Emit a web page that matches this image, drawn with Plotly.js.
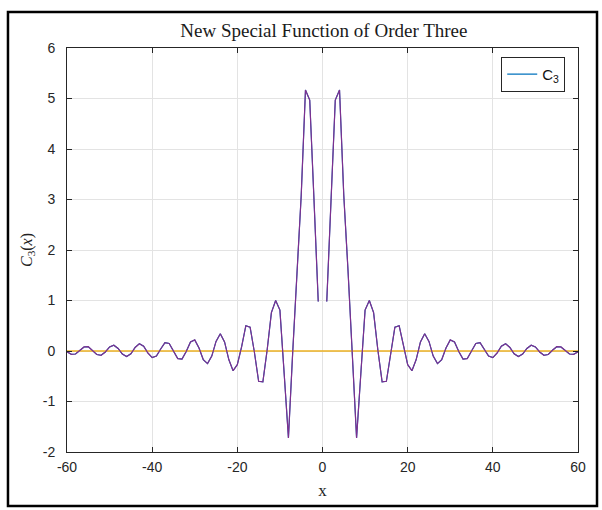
<!DOCTYPE html>
<html>
<head>
<meta charset="utf-8">
<script src="https://cdn.plot.ly/plotly-3.0.1.min.js"></script>
<style>html,body{margin:0;padding:0;background:#fff;}#chart{width:602px;height:510px;}</style>
</head>
<body>
<div id="chart"></div>
<script>
const xValues = [-60,-59,-58,-57,-56,-55,-54,-53,-52,-51,-50,-49,-48,-47,-46,-45,-44,-43,-42,-41,-40,-39,-38,-37,-36,-35,-34,-33,-32,-31,-30,-29,-28,-27,-26,-25,-24,-23,-22,-21,-20,-19,-18,-17,-16,-15,-14,-13,-12,-11,-10,-9,-8,-7,-6,-5,-4,-3,-2,-1,0,1,2,3,4,5,6,7,8,9,10,11,12,13,14,15,16,17,18,19,20,21,22,23,24,25,26,27,28,29,30,31,32,33,34,35,36,37,38,39,40,41,42,43,44,45,46,47,48,49,50,51,52,53,54,55,56,57,58,59,60];
const c3Values = [-0.015,-0.065,-0.06,0.01,0.08,0.085,0.015,-0.07,-0.085,-0.02,0.08,0.115,0.05,-0.06,-0.11,-0.055,0.07,0.145,0.095,-0.04,-0.13,-0.10,0.04,0.165,0.15,0.00,-0.15,-0.16,-0.01,0.18,0.22,0.06,-0.17,-0.25,-0.10,0.19,0.34,0.18,-0.17,-0.39,-0.27,0.08,0.50,0.47,-0.02,-0.60,-0.61,0.02,0.76,1.00,0.81,-0.45,-1.72,-0.03,1.58,3.08,5.17,4.97,3.00,0.98,null,0.98,3.00,4.97,5.17,3.08,1.58,-0.03,-1.72,-0.45,0.81,1.00,0.76,0.02,-0.61,-0.60,-0.02,0.47,0.50,0.08,-0.27,-0.39,-0.17,0.18,0.34,0.19,-0.10,-0.25,-0.17,0.06,0.22,0.18,-0.01,-0.16,-0.15,0.00,0.15,0.165,0.04,-0.10,-0.13,-0.04,0.095,0.145,0.07,-0.055,-0.11,-0.06,0.05,0.115,0.08,-0.02,-0.085,-0.07,0.015,0.085,0.08,0.01,-0.06,-0.065,-0.015];
const baselineX = [-60, 60];
const baselineY = [0, 0];
const xTicks = [-60,-40,-20,0,20,40,60];
const yTicks = [-2,-1,0,1,2,3,4,5,6];
const legendName = 'C<sub>3</sub>';

const traces = [
  {x: xValues, y: c3Values, type: 'scatter', mode: 'lines', name: legendName,
   line: {color: '#0072BD', width: 1.1}, connectgaps: false, showlegend: true},
  {x: baselineX, y: baselineY, type: 'scatter', mode: 'lines', name: 'zero',
   line: {color: '#EDB120', width: 1.3}, showlegend: false},
  {x: xValues, y: c3Values, type: 'scatter', mode: 'lines', name: 'curve',
   line: {color: '#7E2F8E', width: 1.2}, connectgaps: false, showlegend: false}
];

const axisCommon = {
  showline: true, linecolor: '#262626', linewidth: 1, mirror: 'ticks',
  ticks: 'inside', ticklen: 5, tickcolor: '#262626', tickwidth: 1,
  showgrid: true, gridcolor: '#e3e3e3', gridwidth: 1, zeroline: false,
  tickfont: {family: 'Liberation Sans, Arial, sans-serif', size: 14, color: '#262626'}
};

const layout = {
  width: 602, height: 510,
  paper_bgcolor: '#fff', plot_bgcolor: '#fff',
  margin: {l: 67, r: 24, t: 48, b: 58},
  title: {text: 'New Special Function of Order Three', x: 0.538, xanchor: 'center',
          y: 0.941, yanchor: 'middle', yref: 'container',
          font: {family: 'Liberation Serif, Times New Roman, serif', size: 19, color: '#1a1a1a'}},
  xaxis: Object.assign({}, axisCommon, {
    range: [-60, 60], tickvals: xTicks, ticktext: xTicks.map(String), ticklabelstandoff: 2,
    title: {text: 'x', standoff: 10, font: {family: 'Liberation Serif, serif', size: 17, color: '#222'}}
  }),
  yaxis: Object.assign({}, axisCommon, {
    range: [-2, 6], tickvals: yTicks, ticktext: yTicks.map(String), ticklabelstandoff: 8,
    title: {text: '<i>C</i><sub>3</sub>(<i>x</i>)', standoff: 6, font: {family: 'Liberation Serif, serif', size: 16, color: '#222'}}
  }),
  legend: {x: 0.975, xanchor: 'right', y: 0.978, yanchor: 'top',
           bgcolor: '#fff', bordercolor: '#262626', borderwidth: 1,
           font: {family: 'Liberation Sans, Arial, sans-serif', size: 15, color: '#111'}},
  shapes: [{type: 'rect', xref: 'paper', yref: 'paper',
            x0: -0.1155, x1: 1.0372, y0: -0.1337, y1: 1.089,
            line: {color: '#000', width: 2.5}, fillcolor: 'rgba(0,0,0,0)', layer: 'above'}],
  showlegend: true
};

Plotly.newPlot('chart', traces, layout, {displayModeBar: false, staticPlot: true});
</script>
</body>
</html>
